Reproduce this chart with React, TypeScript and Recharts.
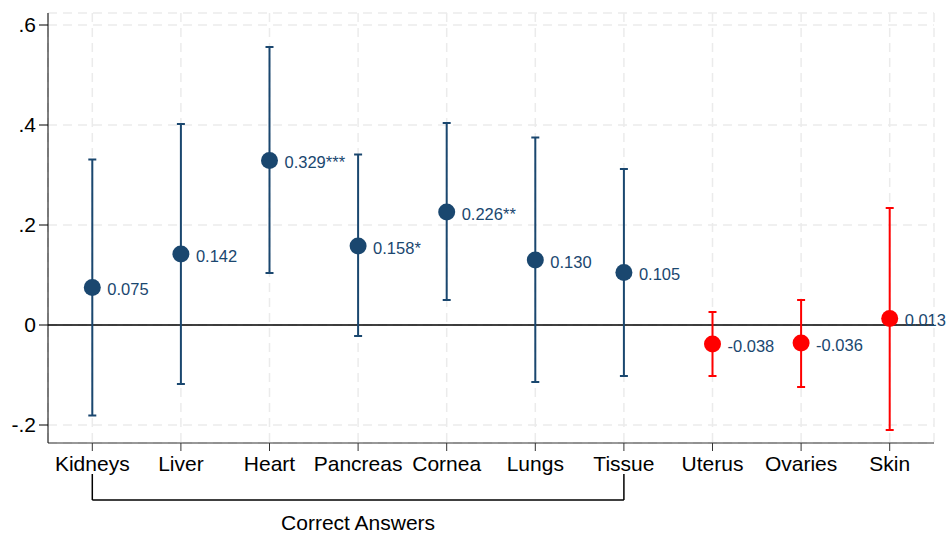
import React from "react";
import {
  ComposedChart,
  Scatter,
  ErrorBar,
  XAxis,
  YAxis,
  CartesianGrid,
  ReferenceLine,
} from "recharts";

const categories = ["Kidneys", "Liver", "Heart", "Pancreas", "Cornea", "Lungs", "Tissue", "Uterus", "Ovaries", "Skin"];
const estimates = [0.075, 0.142, 0.329, 0.158, 0.226, 0.13, 0.105, -0.038, -0.036, 0.013];
const lower = [-0.181, -0.118, 0.104, -0.022, 0.05, -0.114, -0.102, -0.102, -0.124, -0.21];
const upper = [0.331, 0.402, 0.556, 0.341, 0.404, 0.375, 0.312, 0.026, 0.05, 0.234];
const valueLabels = ["0.075", "0.142", "0.329***", "0.158*", "0.226**", "0.130", "0.105", "-0.038", "-0.036", "0.013"];
const isCorrect = [true, true, true, true, true, true, true, false, false, false];
const yTicks = [-0.2, 0, 0.2, 0.4, 0.6];
const yTickLabels = ["-.2", "0", ".2", ".4", ".6"];
const groupLabel = "Correct Answers";

const NAVY = "#1a476f";
const RED = "#ff0000";
const FONT = "'Liberation Sans', Arial, Helvetica, sans-serif";

const rows = categories.map((name, i) => ({
  x: i + 1,
  name,
  y: estimates[i],
  err: [estimates[i] - lower[i], upper[i] - estimates[i]],
  label: valueLabels[i],
}));
const correctRows = rows.filter((_, i) => isCorrect[i]);
const otherRows = rows.filter((_, i) => !isCorrect[i]);
const firstCorrect = correctRows[0].x;
const lastCorrect = correctRows[correctRows.length - 1].x;

// point plus its value label to the right
const makeDot = (color: string) => (props: any) => {
  const { cx, cy, payload } = props;
  return (
    <g>
      <circle cx={cx} cy={cy} r={8.5} fill={color} />
      <text x={cx + 15} y={cy + 2} dy="0.35em" fill={NAVY} fontSize={16.5} fontFamily={FONT}>
        {payload.label}
      </text>
    </g>
  );
};

export default function App() {
  return (
    <div style={{ position: "absolute", left: 0, top: 0, background: "#fff", fontFamily: FONT }}>
      <ComposedChart width={948} height={536} margin={{ top: 13, right: 14, bottom: 63, left: 8 }}>
        <CartesianGrid stroke="#ebebeb" strokeDasharray="9 6" strokeWidth={1.5} />
        <XAxis
          type="number"
          dataKey="x"
          domain={[0.5, 10.5]}
          ticks={categories.map((_, i) => i + 1)}
          tickFormatter={(v: number) => categories[v - 1]}
          interval={0}
          stroke="#333"
          tickSize={8}
          tickMargin={5}
          height={30}
          tick={{ fill: "#000", fontSize: 21, fontFamily: FONT }}
        />
        <YAxis
          type="number"
          dataKey="y"
          domain={[-0.236, 0.624]}
          ticks={yTicks}
          tickFormatter={(v: number) => yTickLabels[yTicks.indexOf(v)]}
          width={40}
          stroke="#000"
          tickSize={9}
          tickMargin={3}
          tick={{ fill: "#000", fontSize: 21, fontFamily: FONT }}
        />
        <ReferenceLine y={0} stroke="#000" strokeWidth={1.3} />
        <Scatter data={correctRows} fill={NAVY} shape={makeDot(NAVY)} isAnimationActive={false}>
          <ErrorBar dataKey="err" direction="y" width={4} stroke={NAVY} strokeWidth={2} />
        </Scatter>
        <Scatter data={otherRows} fill={RED} shape={makeDot(RED)} isAnimationActive={false}>
          <ErrorBar dataKey="err" direction="y" width={4} stroke={RED} strokeWidth={2} />
        </Scatter>
        <ReferenceLine
          segment={[{ x: firstCorrect, y: -0.298 }, { x: firstCorrect, y: -0.35 }]}
          stroke="#000"
          strokeWidth={1.5}
          ifOverflow="visible"
        />
        <ReferenceLine
          segment={[{ x: lastCorrect, y: -0.298 }, { x: lastCorrect, y: -0.35 }]}
          stroke="#000"
          strokeWidth={1.5}
          ifOverflow="visible"
        />
        <ReferenceLine
          segment={[{ x: firstCorrect, y: -0.35 }, { x: lastCorrect, y: -0.35 }]}
          stroke="#000"
          strokeWidth={1.5}
          ifOverflow="visible"
          label={{ value: groupLabel, position: "bottom", offset: 15, fill: "#000", fontSize: 21, fontFamily: FONT }}
        />
      </ComposedChart>
    </div>
  );
}
